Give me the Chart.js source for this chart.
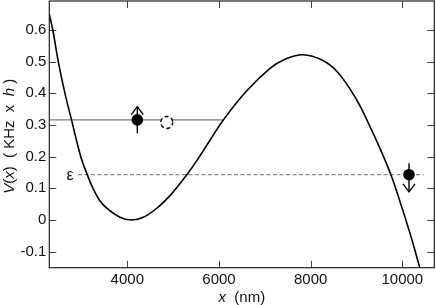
<!DOCTYPE html>
<html><head><meta charset="utf-8">
<script src="https://cdn.jsdelivr.net/npm/chart.js@4.4.0/dist/chart.umd.min.js"></script>
<style>html,body{margin:0;padding:0;background:#fff}#wrap{width:436px;height:305px;position:relative}</style>
</head><body><div id="wrap"><canvas id="c"></canvas></div>
<script>
// ---- data ----
const curveX = [2298, 2375, 2494, 2640, 2783, 2985, 3127, 3252, 3460, 3841, 4096, 4349, 4641, 4932, 5300, 5586, 5804, 6095, 6605, 7113, 7430, 7830, 8250, 8600, 9005, 9295, 9513, 9753, 9950, 10168, 10386, 10450];
const curveV = [0.65, 0.60, 0.50, 0.40, 0.316, 0.20, 0.143, 0.10, 0.05, 0.0085, 0.0, 0.0085, 0.037, 0.077, 0.143, 0.203, 0.252, 0.316, 0.408, 0.479, 0.507, 0.522, 0.505, 0.465, 0.379, 0.295, 0.226, 0.142, 0.058, -0.042, -0.153, -0.186];
const xTicks = [4000, 6000, 8000, 10000];
const yTicks = [-0.1, 0, 0.1, 0.2, 0.3, 0.4, 0.5, 0.6];
const xRange = [2298, 10698];
const yRange = [-0.1506, 0.6915];
const levelE = 0.316;
const levelLineX = [2298, 6095];
const epsLevel = 0.143;
const epsLineX = [2924, 10465];
const epsLabel = ['ε'];
const epsLabelX = [2750];
const dotsX = [4218, 10146];
const dotsV = [0.316, 0.143];
const arrowTail = [0.274, 0.179];
const arrowHead = [0.358, 0.089];
const ghostX = [4860];
const ghostV = [0.308];

const FONT = '"Liberation Sans", Arial, Helvetica, sans-serif';

const pts = (xs, ys) => xs.map((x, i) => ({x, y: ys[i]}));

const frame = {
  id: 'frame',
  beforeDatasetsDraw(chart) {
    const {ctx, chartArea: a, scales: {x, y}} = chart;
    ctx.save();
    ctx.strokeStyle = '#444';
    ctx.lineWidth = 1;
    const L = 7;
    ctx.beginPath();
    xTicks.forEach(v => {
      const px = Math.round(x.getPixelForValue(v)) + 0.5;
      ctx.moveTo(px, a.bottom); ctx.lineTo(px, a.bottom - L);
      ctx.moveTo(px, a.top); ctx.lineTo(px, a.top + L);
    });
    yTicks.forEach(v => {
      const py = Math.round(y.getPixelForValue(v)) + 0.5;
      ctx.moveTo(a.left, py); ctx.lineTo(a.left + L, py);
      ctx.moveTo(a.right, py); ctx.lineTo(a.right - L, py);
    });
    ctx.stroke();
    ctx.restore();
  },
  afterDatasetsDraw(chart) {
    const {ctx, chartArea: a, scales: {x, y}} = chart;
    ctx.save();
    ghostX.forEach((gx, i) => {
      const px = x.getPixelForValue(gx), py = y.getPixelForValue(ghostV[i]);
      ctx.beginPath();
      ctx.arc(px, py, 6, 0, Math.PI * 2);
      ctx.fillStyle = '#fff';
      ctx.fill();
      ctx.setLineDash([4, 2.6]);
      ctx.lineDashOffset = 1;
      ctx.strokeStyle = '#000';
      ctx.lineWidth = 1.4;
      ctx.stroke();
      ctx.setLineDash([]);
    });
    dotsX.forEach((dx, i) => {
      const px = x.getPixelForValue(dx);
      const tip = y.getPixelForValue(arrowHead[i]);
      const dir = arrowHead[i] > arrowTail[i] ? 1 : -1;
      ctx.beginPath();
      ctx.moveTo(px - 6, tip + dir * 8);
      ctx.lineTo(px, tip);
      ctx.lineTo(px + 6, tip + dir * 8);
      ctx.strokeStyle = '#000';
      ctx.lineWidth = 1.4;
      ctx.stroke();
    });
    ctx.fillStyle = '#111';
    ctx.font = '16px ' + FONT;
    ctx.textAlign = 'center';
    ctx.textBaseline = 'middle';
    epsLabel.forEach((t, i) => {
      ctx.fillText(t, x.getPixelForValue(epsLabelX[i]), y.getPixelForValue(epsLevel) + 0.5);
    });
    ctx.strokeStyle = '#222';
    ctx.lineWidth = 1.2;
    ctx.strokeRect(a.left, a.top, a.right - a.left, a.bottom - a.top);
    ctx.restore();
  },
  afterDraw(chart) {
    const {ctx, chartArea: a} = chart;
    const drawRich = (segs, cx, cy) => {
      let w = 0;
      segs.forEach(s => { ctx.font = (s[1] ? 'italic ' : '') + '15px ' + FONT; w += ctx.measureText(s[0]).width; });
      let cur = cx - w / 2;
      segs.forEach(s => {
        ctx.font = (s[1] ? 'italic ' : '') + '15px ' + FONT;
        ctx.fillText(s[0], cur, cy);
        cur += ctx.measureText(s[0]).width;
      });
    };
    ctx.save();
    ctx.fillStyle = '#111';
    ctx.textAlign = 'left';
    ctx.textBaseline = 'alphabetic';
    drawRich([['x', true], ['  (nm)', false]], (a.left + a.right) / 2, 302);
    ctx.translate(14, (a.top + a.bottom) / 2 + 2);
    ctx.rotate(-Math.PI / 2);
    drawRich([['V', true], ['(', false], ['x', true], [')', false], ['  ( KHz  x  ', false], ['h', true], [' )', false]], 0, 0);
    ctx.restore();
  }
};

new Chart(document.getElementById('c'), {
  type: 'line',
  data: {
    datasets: [
      { data: pts(dotsX, dotsV), showLine: false, pointRadius: 5.8, pointHoverRadius: 5.8,
        pointBackgroundColor: '#000', pointBorderColor: '#000', pointBorderWidth: 0 },
      { data: [{x: dotsX[0], y: arrowTail[0]}, {x: dotsX[0], y: arrowHead[0]}], borderColor: '#000', borderWidth: 1.4, pointRadius: 0 },
      { data: [{x: dotsX[1], y: arrowTail[1]}, {x: dotsX[1], y: arrowHead[1]}], borderColor: '#000', borderWidth: 1.4, pointRadius: 0 },
      { data: pts(curveX, curveV), borderColor: '#000', borderWidth: 1.6, pointRadius: 0, tension: 0.4 },
      { data: pts(levelLineX, [levelE, levelE]), borderColor: '#7a7a7a', borderWidth: 1.3, pointRadius: 0 },
      { data: pts(epsLineX, [epsLevel, epsLevel]), borderColor: '#8a8a8a', borderWidth: 1.3, borderDash: [4, 2.5], pointRadius: 0 }
    ]
  },
  options: {
    responsive: true,
    maintainAspectRatio: false,
    animation: false,
    events: [],
    layout: { autoPadding: false, padding: { top: 1, right: 1.7, left: 0, bottom: 0 } },
    plugins: { legend: { display: false }, tooltip: { enabled: false } },
    scales: {
      x: {
        type: 'linear', min: xRange[0], max: xRange[1],
        grid: { display: false, drawTicks: false }, border: { display: false },
        afterBuildTicks: s => { s.ticks = xTicks.map(v => ({value: v})); },
        afterFit: s => { s.height = 37.3; s.paddingLeft = 0; s.paddingRight = 0; },
        ticks: { padding: 3, color: '#111', font: { family: FONT, size: 15 }, maxRotation: 0, callback: v => String(v) }
      },
      y: {
        type: 'linear', min: yRange[0], max: yRange[1],
        grid: { display: false, drawTicks: false }, border: { display: false },
        afterBuildTicks: s => { s.ticks = yTicks.map(v => ({value: v})); },
        afterFit: s => { s.width = 49.3; s.paddingTop = 0; s.paddingBottom = 0; },
        ticks: { padding: 3, color: '#111', font: { family: FONT, size: 15 }, callback: v => (Math.abs(v) < 1e-9 ? '0' : v.toFixed(1)) }
      }
    }
  },
  plugins: [frame]
});
</script>
</body></html>
